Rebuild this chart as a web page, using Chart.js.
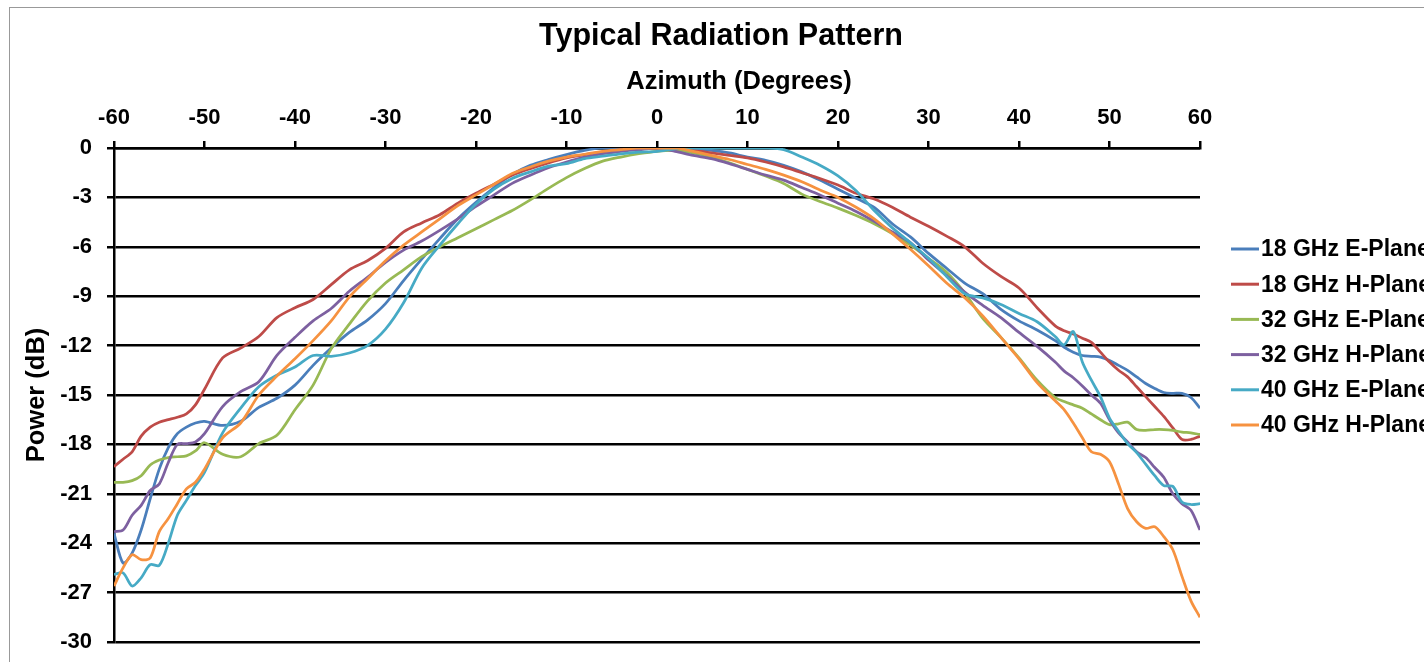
<!DOCTYPE html>
<html>
<head>
<meta charset="utf-8">
<title>Typical Radiation Pattern</title>
<script src="https://cdn.jsdelivr.net/npm/chart.js@4.4.1/dist/chart.umd.min.js"></script>
<style>
  html, body { margin: 0; padding: 0; background: #fff; overflow: hidden; }
  #wrap { position: relative; width: 1424px; height: 662px; }
  #frame { position: absolute; left: 9px; top: 7px; width: 1500px; height: 700px;
           border-left: 1px solid #999; border-top: 1px solid #999; }
  canvas { position: absolute; left: 0; top: 0; }
</style>
</head>
<body>
<div id="wrap">
  <div id="frame"></div>
  <canvas id="myChart" width="1424" height="662"></canvas>
</div>
<script>
// azimuth (degrees) - denser near the edges where the curves wiggle
var azimuth = [-60,-59,-58,-57,-56,-55,-54,-53,-52,-51,-50,
  -48,-46,-44,-42,-40,-38,-36,-34,-32,-30,
  -28,-26,-24,-22,-20,-18,-16,-14,-12,-10,-8,-6,-4,-2,
  0,
  2,4,6,8,10,12,14,16,18,20,22,24,26,28,30,32,34,36,38,40,42,44,
  45,46,47,48,49,50,51,52,53,54,55,56,57,58,59,60];

// power (dB) per series
var e18 = [-23.4,-25.2,-24.6,-23.2,-21.3,-19.5,-18.2,-17.35,-16.95,-16.7,-16.6,
  -16.85,-16.6,-15.75,-15.2,-14.4,-13.2,-12.15,-11.2,-10.45,-9.45,
  -8.05,-6.75,-5.5,-4.3,-3.3,-2.4,-1.6,-1.05,-0.7,-0.4,-0.15,0,0,0,
  0,
  0,-0.05,-0.15,-0.3,-0.55,-0.75,-1.05,-1.45,-1.95,-2.5,-3.05,-3.6,-4.6,-5.4,-6.4,-7.3,-8.2,-8.85,-9.8,-10.5,-11.05,-11.7,
  -12.1,-12.4,-12.6,-12.65,-12.7,-12.9,-13.2,-13.5,-13.9,-14.3,-14.6,-14.85,-14.9,-14.9,-15.15,-15.8];

var h18 = [-19.35,-18.9,-18.45,-17.5,-16.95,-16.65,-16.5,-16.35,-16.15,-15.6,-14.65,
  -12.75,-12.15,-11.45,-10.3,-9.7,-9.2,-8.3,-7.4,-6.85,-6.1,
  -5.1,-4.55,-4.05,-3.35,-2.75,-2.2,-1.65,-1.25,-0.9,-0.6,-0.4,-0.25,-0.12,-0.05,
  0,
  -0.05,-0.15,-0.3,-0.45,-0.6,-0.85,-1.15,-1.5,-1.85,-2.25,-2.75,-3.1,-3.6,-4.2,-4.75,-5.35,-6.0,-7.0,-7.8,-8.5,-9.7,-10.8,
  -11.1,-11.3,-11.55,-11.8,-12.4,-13.0,-13.5,-13.9,-14.5,-15.1,-15.7,-16.3,-17.0,-17.7,-17.7,-17.5];

var e32 = [-20.3,-20.3,-20.2,-19.9,-19.25,-18.95,-18.8,-18.75,-18.7,-18.4,-17.9,
  -18.6,-18.75,-17.95,-17.45,-15.9,-14.4,-12.2,-10.7,-9.3,-8.2,
  -7.4,-6.6,-6.0,-5.45,-4.9,-4.35,-3.8,-3.15,-2.45,-1.8,-1.25,-0.8,-0.55,-0.35,
  -0.2,
  -0.15,-0.3,-0.55,-0.9,-1.3,-1.7,-2.15,-2.8,-3.25,-3.65,-4.1,-4.6,-5.2,-5.9,-6.7,-7.55,-8.8,-10.35,-11.5,-12.75,-14.1,-15.15,
  -15.4,-15.6,-15.8,-16.15,-16.5,-16.8,-16.75,-16.65,-17.1,-17.15,-17.1,-17.1,-17.15,-17.25,-17.3,-17.4];

var h32 = [-23.3,-23.2,-22.3,-21.7,-20.8,-20.4,-19.1,-18.0,-17.95,-17.85,-17.35,
  -15.7,-14.8,-14.2,-12.6,-11.5,-10.5,-9.75,-8.7,-7.85,-6.95,
  -6.2,-5.65,-5.0,-4.3,-3.55,-2.85,-2.15,-1.65,-1.2,-0.85,-0.55,-0.35,-0.2,-0.1,
  0,
  -0.2,-0.45,-0.65,-0.95,-1.3,-1.65,-1.95,-2.4,-2.85,-3.35,-3.85,-4.45,-5.1,-5.75,-6.8,-7.75,-8.75,-9.55,-10.3,-11.2,-12.05,-13.0,
  -13.55,-13.95,-14.45,-15.0,-15.5,-16.5,-17.3,-17.85,-18.45,-18.8,-19.4,-20.0,-21.0,-21.6,-22.0,-23.2];

var e40 = [-25.9,-25.8,-26.6,-26.1,-25.3,-25.35,-24.0,-22.3,-21.4,-20.5,-19.7,
  -17.3,-15.8,-14.5,-13.8,-13.3,-12.6,-12.65,-12.45,-12.0,-11.0,
  -9.4,-7.3,-5.9,-4.6,-3.4,-2.5,-1.85,-1.45,-1.1,-0.95,-0.65,-0.5,-0.35,-0.25,
  -0.2,
  -0.05,0,0,0,0,0,-0.1,-0.55,-1.05,-1.7,-2.6,-3.8,-4.85,-5.75,-6.7,-7.8,-8.85,-9.1,-9.5,-10.05,-10.55,-11.45,
  -11.95,-11.15,-13.0,-14.1,-15.1,-16.4,-17.2,-17.95,-18.5,-19.2,-19.9,-20.5,-20.55,-21.5,-21.65,-21.6];

var h40 = [-26.6,-25.5,-24.7,-25.0,-24.9,-23.3,-22.5,-21.6,-20.7,-20.3,-19.5,
  -17.6,-16.7,-15.0,-13.85,-12.8,-11.7,-10.5,-9.05,-7.95,-6.85,
  -5.9,-5.1,-4.3,-3.5,-2.85,-2.2,-1.55,-1.15,-0.8,-0.55,-0.38,-0.2,-0.1,0,
  0,
  0,-0.2,-0.45,-0.7,-1.0,-1.3,-1.65,-2.05,-2.55,-3.0,-3.6,-4.3,-5.2,-6.15,-7.15,-8.2,-9.1,-10.2,-11.5,-12.8,-14.25,-15.35,
  -15.9,-16.7,-17.6,-18.45,-18.6,-19.05,-20.4,-21.9,-22.7,-23.1,-23.0,-23.6,-24.4,-26.0,-27.5,-28.5];

var seriesNames = ['18 GHz E-Plane', '18 GHz H-Plane', '32 GHz E-Plane', '32 GHz H-Plane', '40 GHz E-Plane', '40 GHz H-Plane'];
var seriesValues = [e18, h18, e32, h32, e40, h40];
var seriesColors = ['#4A7EBB', '#BE4B48', '#98B954', '#7D60A0', '#46AAC5', '#F69240'];

var azimuthTicks = [-60, -50, -40, -30, -20, -10, 0, 10, 20, 30, 40, 50, 60];
var powerTicks = [0, -3, -6, -9, -12, -15, -18, -21, -24, -27, -30];

var FONT = '"Liberation Sans", Arial, sans-serif';
Chart.defaults.font.family = FONT;
Chart.defaults.color = '#000';

var datasets = seriesValues.map(function (vals, i) {
  return {
    label: seriesNames[i],
    data: vals.map(function (v, j) { return { x: azimuth[j], y: v }; }),
    borderColor: seriesColors[i],
    backgroundColor: seriesColors[i],
    borderWidth: 2.75,
    pointRadius: 0,
    tension: 0.3,
    fill: false,
    order: seriesValues.length - i // last series drawn on top, like the original
  };
});

// title, top axis title and legend (the legend runs off the right edge as in the original)
var textPlugin = {
  id: 'textPlugin',
  afterDraw: function (chart) {
    var ctx = chart.ctx;
    var area = chart.chartArea;
    ctx.save();
    ctx.fillStyle = '#000';
    ctx.textAlign = 'center';
    ctx.textBaseline = 'middle';
    ctx.font = 'bold 30.5px ' + FONT;
    ctx.fillText('Typical Radiation Pattern', 721, 37);
    ctx.font = 'bold 25.5px ' + FONT;
    ctx.fillText('Azimuth (Degrees)', 739, 82);

    ctx.textAlign = 'left';
    ctx.font = 'bold 23px ' + FONT;
    chart.data.datasets.forEach(function (ds, i) {
      var y = 249 + i * 35.2;
      ctx.strokeStyle = ds.borderColor;
      ctx.lineWidth = 3;
      ctx.beginPath();
      ctx.moveTo(area.right + 31, y);
      ctx.lineTo(area.right + 59, y);
      ctx.stroke();
      ctx.fillText(ds.label, area.right + 61, y + 1);
    });
    ctx.restore();
  }
};

var ctx = document.getElementById('myChart').getContext('2d');
var myChart = new Chart(ctx, {
  type: 'line',
  data: { datasets: datasets },
  options: {
    responsive: false,
    animation: false,
    layout: { padding: { left: 0, top: 0, right: 224, bottom: 20 } },
    plugins: {
      legend: { display: false },
      title: { display: false },
      tooltip: { enabled: false }
    },
    scales: {
      x: {
        type: 'linear',
        position: 'top',
        min: -60,
        max: 60,
        afterBuildTicks: function (scale) {
          scale.ticks = azimuthTicks.map(function (v) { return { value: v }; });
        },
        ticks: { padding: 10, color: '#000', font: { size: 22, weight: 'bold' } },
        grid: { drawOnChartArea: false, drawTicks: true, tickLength: 7, color: '#000', lineWidth: 2.5 },
        border: { display: true, color: '#000', width: 2.5 },
        afterFit: function (scale) { scale.height = 148; }
      },
      y: {
        type: 'linear',
        min: -30,
        max: 0,
        afterBuildTicks: function (scale) {
          scale.ticks = powerTicks.map(function (v) { return { value: v }; });
        },
        ticks: { padding: 15, color: '#000', font: { size: 22, weight: 'bold' } },
        grid: { color: '#000', lineWidth: 2.5, tickLength: 7 },
        border: { display: true, color: '#000', width: 2.5 },
        title: {
          display: true,
          text: 'Power (dB)',
          color: '#000',
          font: { size: 25.5, weight: 'bold' },
          padding: { top: 22, bottom: 0 }
        },
        afterFit: function (scale) {
          scale.width = 114;
          scale.paddingTop = 0;
          scale.paddingBottom = 0;
        }
      }
    }
  },
  plugins: [textPlugin]
});
</script>
</body>
</html>
